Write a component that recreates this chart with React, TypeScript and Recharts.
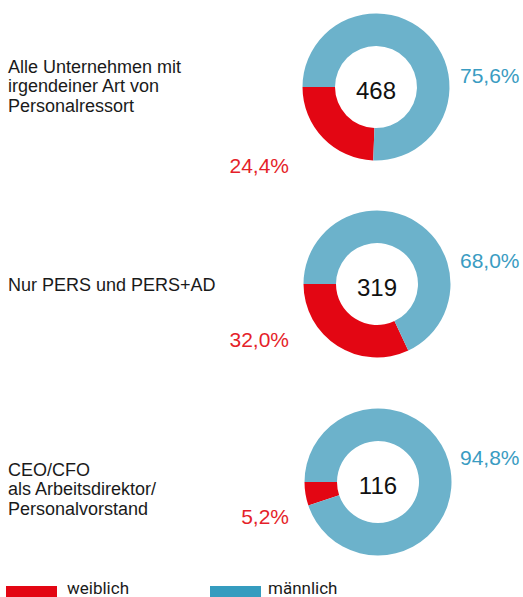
import { PieChart, Pie, Cell } from 'recharts'

// Anzahl Unternehmen je Gruppe (Zahl in der Mitte)
const totals = [468, 319, 116]
// Anteile in Prozent
const weiblich = [24.4, 32.0, 5.2]
const maennlich = [75.6, 68.0, 94.8]
// Beschriftung links, zeilenweise
const groupLabels = [
    ['Alle Unternehmen mit', 'irgendeiner Art von', 'Personalressort'],
    ['Nur PERS und PERS+AD'],
    ['CEO/CFO', 'als Arbeitsdirektor/', 'Personalvorstand'],
]
const seriesNames = ['weiblich', 'männlich']

const RED = '#e30613'
const BLUE = '#6cb2cb'
const BLUE_LEGEND = '#359cbf'
const BLUE_TEXT = '#3a9cc2'
const RED_TEXT = '#e51f2a'

// layout per row (not data)
const rowLayout = [
    { cx: 376, cy: 87, labelY: 87, rightY: 76, leftY: 166 },
    { cx: 377, cy: 284, labelY: 286, rightY: 261, leftY: 340 },
    { cx: 378, cy: 482, labelY: 490, rightY: 458, leftY: 517 },
]

const fmt = (v: number) => v.toFixed(1).replace('.', ',') + '%'

const App = () => {
    const lineH = 19.5

    return (
        <div style={{
            position: 'absolute', left: 0, top: 0, width: 523, height: 597,
            overflow: 'hidden', background: '#fff',
            fontFamily: '"Liberation Sans", Arial, sans-serif'
        }}>
            <PieChart width={523} height={597} margin={{ top: 0, right: 0, bottom: 0, left: 0 }}
                style={{ position: 'absolute', left: 0, top: 0 }}>
                {totals.map((_, i) => (
                    <Pie
                        key={i}
                        data={[
                            { name: seriesNames[0], value: weiblich[i] },
                            { name: seriesNames[1], value: maennlich[i] },
                        ]}
                        dataKey="value"
                        cx={rowLayout[i].cx}
                        cy={rowLayout[i].cy}
                        innerRadius={41}
                        outerRadius={73.5}
                        startAngle={180}
                        endAngle={540}
                        stroke="none"
                        isAnimationActive={false}
                    >
                        <Cell fill={RED} />
                        <Cell fill={BLUE} />
                    </Pie>
                ))}
            </PieChart>

            {totals.map((t, i) => (
                <div key={'t' + i} style={{
                    position: 'absolute', left: rowLayout[i].cx - 40, width: 80,
                    top: rowLayout[i].cy + 4 - 14, lineHeight: '28px',
                    textAlign: 'center', fontSize: 24, color: '#111'
                }}>{t}</div>
            ))}

            {groupLabels.map((lines, i) => (
                <div key={'g' + i} style={{
                    position: 'absolute', left: 8,
                    top: rowLayout[i].labelY - (lines.length * lineH) / 2,
                    fontSize: 18, lineHeight: lineH + 'px', color: '#1a1a1a'
                }}>
                    {lines.map((l, j) => <div key={j}>{l}</div>)}
                </div>
            ))}

            {maennlich.map((v, i) => (
                <div key={'m' + i} style={{
                    position: 'absolute', left: 460, top: rowLayout[i].rightY - 12,
                    fontSize: 21, lineHeight: '24px', color: BLUE_TEXT
                }}>{fmt(v)}</div>
            ))}

            {weiblich.map((v, i) => (
                <div key={'w' + i} style={{
                    position: 'absolute', right: 523 - 289, top: rowLayout[i].leftY - 12,
                    fontSize: 21, lineHeight: '24px', color: RED_TEXT
                }}>{fmt(v)}</div>
            ))}

            {/* Legende */}
            <div style={{ position: 'absolute', left: 6, top: 586, width: 51, height: 12, background: RED }} />
            <div style={{
                position: 'absolute', left: 67, top: 580, fontSize: 17,
                fontFamily: 'Roboto, sans-serif', color: '#1a1a1a', lineHeight: '17px'
            }}>{seriesNames[0]}</div>
            <div style={{ position: 'absolute', left: 210, top: 586, width: 51, height: 12, background: BLUE_LEGEND }} />
            <div style={{
                position: 'absolute', left: 268, top: 580, fontSize: 17,
                fontFamily: 'Roboto, sans-serif', color: '#1a1a1a', lineHeight: '17px'
            }}>{seriesNames[1]}</div>
        </div>
    )
}

export default App
